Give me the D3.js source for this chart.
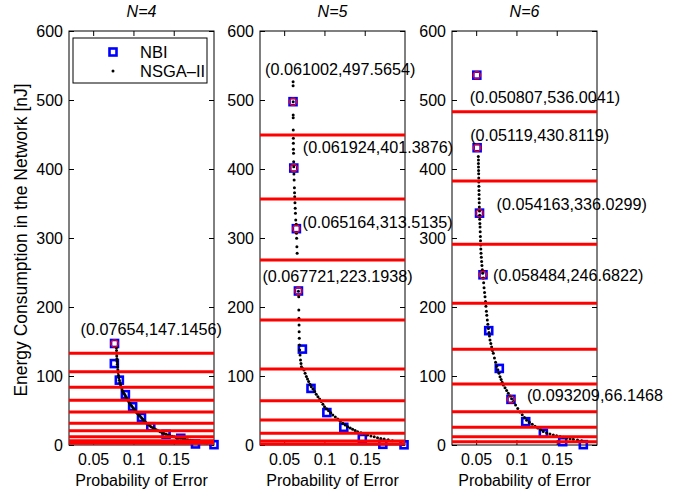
<!DOCTYPE html>
<html>
<head>
<meta charset="utf-8">
<script src="https://cdn.jsdelivr.net/npm/d3@7"></script>
<style>
body { margin: 0; background: #fff; }
text { font-family: "Liberation Sans", Arial, Helvetica, sans-serif; fill: #000; }
</style>
</head>
<body>
<div id="chart"></div>
<script>
// ---- data ----
var titles = ["N=4", "N=5", "N=6"];
var xTicks = [0.05, 0.1, 0.15];
var yTicks = [0, 100, 200, 300, 400, 500, 600];
var legendNames = ["NBI", "NSGA\u2013II"];

// NBI solutions (blue squares)
var nbi4 = [[0.07654,147.1456],[0.0763,118],[0.0825,94],[0.0900,73],[0.0990,55.5],[0.1100,40],[0.1215,26.5],[0.1405,15.5],[0.1588,9.7],[0.1770,1.5],[0.2000,0.5]];
var nbi5 = [[0.061002,497.5654],[0.061924,401.3876],[0.065164,313.5135],[0.067721,223.1938],[0.0726,139],[0.0833,82],[0.1030,47],[0.1240,25.6],[0.1470,9.5],[0.1725,1],[0.1988,0.3]];
var nbi6 = [[0.050807,536.0041],[0.05119,430.8119],[0.054163,336.0299],[0.058484,246.6822],[0.0656,165.7],[0.0787,111],[0.093209,66.1468],[0.1115,33.8],[0.1334,17],[0.1574,4.8],[0.1830,0.5]];

// NSGA-II front (black dots)
var nsga4 = [[0.0789,141],[0.0790,137],[0.0791,133],[0.0793,129],[0.0795,125],[0.0797,121],[0.0800,117],[0.0803,113],[0.0806,109],[0.0810,105],[0.0814,101],[0.0819,97.5],[0.0825,94],
  [0.0832,90.5],[0.0840,87],[0.0848,84],[0.0857,81],[0.0867,78],[0.0878,75.5],[0.0890,73.5],[0.0900,71.5],
  [0.0912,69],[0.0925,66],[0.0938,63.5],[0.0951,61],[0.0964,58.5],[0.0978,56.5],[0.0992,54.5],
  [0.1006,52.5],[0.1020,50],[0.1035,47.5],[0.1050,45.5],[0.1066,43.5],[0.1083,41.5],[0.1100,39.5],
  [0.1116,37.5],[0.1132,35.5],[0.1149,33.5],[0.1166,31.5],[0.1183,29.8],[0.1200,28.2],[0.1218,26.6],
  [0.1240,25],[0.1262,23.5],[0.1285,22],[0.1308,20.5],[0.1332,19.2],[0.1356,17.9],[0.1380,16.7],[0.1405,15.6],
  [0.1430,14.5],[0.1455,13.5],[0.1480,12.6],[0.1505,11.8],[0.1530,11.0],[0.1558,10.3],[0.1586,9.7],
  [0.1615,9.0],[0.1645,8.3],[0.1675,7.5],[0.1705,6.8],[0.1735,6.1],[0.1765,5.4],[0.1795,4.8],[0.1825,4.2],[0.1855,3.7],[0.1885,3.3],[0.1912,3.0]];
var nsga5 = [[0.0611,526.5],[0.0611,520.8],[0.0612,497.6],[0.0612,478.3],[0.0612,474.4],[0.0613,456.5],[0.0614,444.5],[0.0614,437.2],[0.0615,428.5],[0.0616,422.7],[0.0618,410.6],[0.0619,403.4],
  [0.0621,392.8],[0.0624,384],[0.0627,373],[0.0629,365.7],[0.0631,359.9],[0.0634,351.2],[0.0637,343],[0.0640,335.8],[0.0644,326],[0.0650,319.8],[0.0653,306.8],[0.0655,299.5],[0.0658,287.4],[0.0661,277.8],
  [0.0677,223],[0.0681,214.9],[0.0682,195.7],[0.0683,183.6],[0.0685,173.9],[0.0686,164.2],[0.0688,154.6],[0.0690,144.9],[0.0693,137.7],[0.0697,130.4],[0.0703,123.2],[0.0709,118],[0.0714,113.5],
  [0.0730,111],[0.0746,108.7],[0.0760,104],[0.0776,99.1],[0.0790,95.5],[0.0804,91.9],[0.0820,88.2],[0.0837,84.6],[0.0857,81],[0.0878,77.4],[0.0898,73.7],[0.0919,70.1],[0.0940,66.5],[0.0961,62.9],
  [0.0981,59.2],[0.1001,55.6],[0.1026,52.6],[0.1051,49.7],[0.1078,46.6],[0.1104,43.5],[0.1135,40.6],[0.1166,37.7],[0.1196,34.5],[0.1227,31.4],[0.1258,29],[0.1289,26.6],[0.1320,24.6],[0.1350,22.7],
  [0.1381,21],[0.1412,19.3],[0.1453,17.6],[0.1495,15.9],[0.1536,14.4],[0.1577,13.0],[0.1618,11.8],[0.1659,10.6],[0.1700,9.6],[0.1741,8.7],[0.1792,7.5],[0.1844,6.3]];
var nsga6 = [[0.0527,418],[0.0528,413],[0.0528,408],[0.0529,403],[0.0530,398],[0.0531,393],[0.0532,387],[0.0533,381],[0.0534,375],[0.0535,369],[0.0536,363],[0.0537,357],[0.0538,351],[0.0539,345],
  [0.0541,339],[0.0543,333],[0.0544,327],[0.0546,321],[0.0548,316],[0.0550,309],[0.0552,302],[0.0554,296],[0.0556,290],[0.0558,284],[0.0560,278],[0.0564,272],[0.0568,266],[0.0572,260],[0.0576,254],
  [0.0581,249],[0.0587,242],[0.0593,235],[0.0598,228],[0.0604,221],[0.0610,215],[0.0616,208],[0.0621,201],[0.0627,194],[0.0632,188],[0.0638,181],[0.0645,175],[0.0652,169],[0.0659,163],[0.0665,158],
  [0.0672,152],[0.0682,147],[0.0692,142],[0.0702,137],[0.0713,133],[0.0727,126],[0.0741,120],[0.0755,114],[0.0769,109],[0.0783,104],[0.0796,99],[0.0810,95],[0.0823,91],[0.0837,87],[0.0858,83],
  [0.0878,79],[0.0899,75],[0.0920,71],[0.0940,67],[0.0961,63],[0.0989,58],[0.1016,53],[0.1044,48],[0.1072,44],[0.1099,40],[0.1127,36],[0.1161,33],[0.1196,30],[0.1230,27],[0.1264,24.5],
  [0.1299,22],[0.1333,19.5],[0.1375,17.8],[0.1416,16],[0.1458,14.5],[0.1499,13.3],[0.1541,12.2],[0.1582,11.1],[0.1623,10.1],[0.1665,9.1],[0.1706,8.2],[0.1758,7.2],[0.1810,6.3]];

// red horizontal levels
var cut4 = [132.9, 106.2, 83.6, 64.8, 47.8, 31.4, 20.7, 12.0, 6.2, 2.4];
var cut5 = [449.3, 356.5, 268.1, 181.2, 110.1, 64.2, 36.2, 17.0, 5.8, 1.4];
var cut6 = [483, 382.6, 290.8, 205.3, 138.7, 88.4, 48.3, 25.6, 12.0, 4.8];

// annotated NBI points (index into the NBI list) and their labels
var marked4 = [0];
var marked5 = [0, 1, 2, 3];
var marked6 = [0, 1, 2, 3, 6];
var labels4 = ["(0.07654,147.1456)"];
var labels5 = ["(0.061002,497.5654)", "(0.061924,401.3876)", "(0.065164,313.5135)", "(0.067721,223.1938)"];
var labels6 = ["(0.050807,536.0041)", "(0.05119,430.8119)", "(0.054163,336.0299)", "(0.058484,246.6822)", "(0.093209,66.1468"];

// ---- layout ----
var lefts = [69, 260, 452],
    plotTop = 31,
    width = 145,
    height = 414;

// label offsets in px from the marked point (left edge, vertical centre)
var labelOffsets = [
  [[-34, -14]],
  [[-28, -33], [9, -21], [6, -7], [-36, -15]],
  [[-7, 22], [-7, -13], [17, -9], [10, 0], [16, -4]]
];

var panels = [
  {title: titles[0], nbi: nbi4, nsga: nsga4, cuts: cut4, marked: marked4, labels: labels4},
  {title: titles[1], nbi: nbi5, nsga: nsga5, cuts: cut5, marked: marked5, labels: labels5},
  {title: titles[2], nbi: nbi6, nsga: nsga6, cuts: cut6, marked: marked6, labels: labels6}
];

var svg = d3.select("#chart")
  .append("svg")
  .attr("width", 694)
  .attr("height", 494);

var x = d3.scaleLinear().domain([0.02, 0.2]).range([0, width]);
var y = d3.scaleLinear().domain([0, 600]).range([height, 0]);

panels.forEach(function(p, i) {
  var g = svg.append("g")
    .attr("transform", "translate(" + lefts[i] + "," + plotTop + ")");

  // axes with inward ticks on all four sides
  g.append("g")
    .attr("transform", "translate(0," + height + ")")
    .call(d3.axisBottom(x).tickValues(xTicks).tickFormat(function(d){ return String(d); })
      .tickSizeInner(-5).tickSizeOuter(0).tickPadding(9));
  g.append("g")
    .call(d3.axisTop(x).tickValues(xTicks).tickFormat("").tickSizeInner(-5).tickSizeOuter(0));
  g.append("g")
    .call(d3.axisLeft(y).tickValues(yTicks).tickSizeInner(-5).tickSizeOuter(0).tickPadding(6));
  g.append("g")
    .attr("transform", "translate(" + width + ",0)")
    .call(d3.axisRight(y).tickValues(yTicks).tickFormat("").tickSizeInner(-5).tickSizeOuter(0));
  g.selectAll(".domain").remove();
  g.selectAll(".tick line").attr("stroke", "#000");
  g.selectAll(".tick text").style("font-size", "16px").attr("fill", "#000");

  g.append("rect")
    .attr("width", width).attr("height", height)
    .attr("fill", "none").attr("stroke", "#000").attr("stroke-width", 1);

  // NBI squares
  g.selectAll(".nbi")
    .data(p.nbi)
    .enter().append("rect")
    .attr("x", function(d) { return x(d[0]) - 3.5; })
    .attr("y", function(d) { return y(d[1]) - 3.5; })
    .attr("width", 7).attr("height", 7)
    .attr("fill", "none")
    .attr("stroke", "#0000ff")
    .attr("stroke-width", 2.6);

  // NSGA-II dots
  g.selectAll(".nsga")
    .data(p.nsga)
    .enter().append("circle")
    .attr("cx", function(d) { return x(d[0]); })
    .attr("cy", function(d) { return y(d[1]); })
    .attr("r", 1.5)
    .attr("fill", "#000");

  // red circles round the annotated points
  g.selectAll(".mark")
    .data(p.marked)
    .enter().append("circle")
    .attr("cx", function(k) { return x(p.nbi[k][0]); })
    .attr("cy", function(k) { return y(p.nbi[k][1]); })
    .attr("r", 3.6)
    .attr("fill", "none")
    .attr("stroke", "#ff0000")
    .attr("stroke-width", 1.2);

  // red levels
  g.selectAll(".cut")
    .data(p.cuts)
    .enter().append("line")
    .attr("x1", 0).attr("x2", width)
    .attr("y1", function(d) { return y(d); })
    .attr("y2", function(d) { return y(d); })
    .attr("stroke", "#ff0000")
    .attr("stroke-width", 3);

  // annotations
  g.selectAll(".lab")
    .data(p.marked)
    .enter().append("text")
    .attr("x", function(k, j) { return x(p.nbi[k][0]) + labelOffsets[i][j][0]; })
    .attr("y", function(k, j) { return y(p.nbi[k][1]) + labelOffsets[i][j][1]; })
    .attr("dy", "0.36em")
    .style("font-size", "16.2px")
    .text(function(k, j) { return p.labels[j]; });

  // title and x label
  g.append("text")
    .attr("x", width / 2).attr("y", -14)
    .attr("text-anchor", "middle")
    .style("font-size", "16px")
    .style("font-style", "italic")
    .text(p.title);
  g.append("text")
    .attr("x", width / 2).attr("y", height + 41)
    .attr("text-anchor", "middle")
    .style("font-size", "16px")
    .text("Probability of Error");

  // legend only in the first panel
  if (i == 0) {
    var lg = g.append("g").attr("transform", "translate(4,7)");
    lg.append("rect")
      .attr("width", 134).attr("height", 45)
      .attr("fill", "#fff").attr("stroke", "#000").attr("stroke-width", 1);
    lg.append("rect")
      .attr("x", 36.5).attr("y", 10.5).attr("width", 7).attr("height", 7)
      .attr("fill", "none").attr("stroke", "#0000ff").attr("stroke-width", 2.6);
    lg.append("circle")
      .attr("cx", 40).attr("cy", 33).attr("r", 1.5).attr("fill", "#000");
    lg.selectAll(".lgt")
      .data(legendNames)
      .enter().append("text")
      .attr("x", 67)
      .attr("y", function(d, j) { return 14 + j * 19; })
      .attr("dy", "0.36em")
      .style("font-size", "16.5px")
      .text(function(d) { return d; });
  }
});

// y axis label
svg.append("text")
  .attr("transform", "translate(27,240) rotate(-90)")
  .attr("text-anchor", "middle")
  .style("font-size", "17.5px")
  .text("Energy Consumption in the Network [nJ]");
</script>
</body>
</html>
